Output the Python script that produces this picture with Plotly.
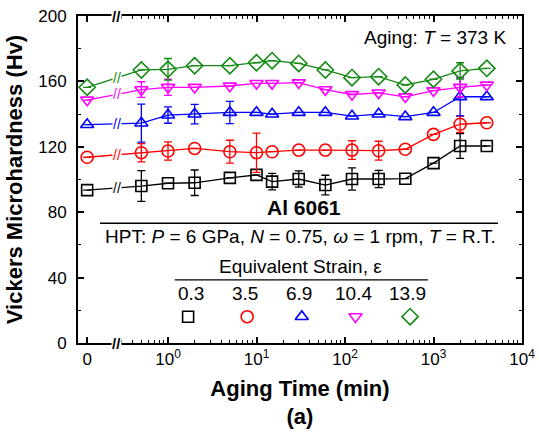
import math
import plotly.graph_objects as go

# ---------------- data ----------------
aging_time = [0, 0.5, 1, 2, 5, 10, 15, 30, 60, 120, 240, 480, 1000, 2000, 4000]
strain_labels = ["0.3", "3.5", "6.9", "10.4", "13.9"]

hv_03 = [93.5, 96, 97.7, 98, 101, 102.8, 98.7, 100.3, 96.6, 100.3, 100.3, 100.5, 110, 120.5, 120.5]
err_03 = [0, 9.4, 0, 7.8, 0, 0, 5, 5, 6, 6.8, 5.3, 0, 0, 7.6, 0]

hv_35 = [113.6, 116.4, 117.4, 119, 117, 116.4, 117, 118, 118, 118, 117.6, 118.5, 127.6, 133.8, 134.7]
err_35 = [0, 5.6, 5.6, 0, 7, 12, 0, 0, 0, 5.7, 5.8, 0, 0, 5, 0]

hv_69 = [133.6, 134.5, 139.4, 140, 141, 141, 140, 141, 141, 138.8, 140, 138.4, 141, 150.6, 150.6]
err_69 = [0, 11.6, 5, 6, 6.8, 0, 0, 0, 0, 0, 0, 0, 0, 11.7, 0]

hv_104 = [148.6, 155, 156.4, 156.4, 157.2, 158.8, 158.8, 159.2, 155, 152, 153, 150.6, 154.3, 156.4, 157.8]
err_104 = [0, 4.8, 4.9, 0, 0, 0, 0, 0, 0, 0, 0, 0, 0, 5.8, 0]

hv_139 = [156.4, 167, 167.4, 169.6, 169.6, 171.4, 172.7, 171, 167, 162.3, 162.9, 157.8, 161.3, 166.4, 168]
err_139 = [0, 0, 6.6, 0, 0, 0, 0, 0, 0, 0, 0, 0, 0, 5, 0]

x_tick_text = ["0", "10<sup>0</sup>", "10<sup>1</sup>", "10<sup>2</sup>", "10<sup>3</sup>", "10<sup>4</sup>"]
y_ticks = [0, 40, 80, 120, 160, 200]

# ---------------- styling ----------------
ZERO_POS = 0.122      # where "0" min sits on the log axis
BREAK_POS = 0.265     # axis break position
FONT = "Liberation Sans, Arial, sans-serif"

series = [
    (hv_03, err_03, "black", "square-open", 11),
    (hv_35, err_35, "#ff0000", "circle-open", 12),
    (hv_69, err_69, "#0000ff", "triangle-up-open", 11.5),
    (hv_104, err_104, "#ff00ff", "triangle-down-open", 11.5),
    (hv_139, err_139, "#138a13", "diamond-open", 12.5),
]

xplot = [ZERO_POS if t == 0 else t for t in aging_time]

fig = go.Figure()
for ys, es, col, sym, ms in series:
    fig.add_trace(go.Scatter(
        x=xplot, y=ys, mode="lines+markers",
        line=dict(color=col, width=1.3),
        marker=dict(symbol=sym, size=ms, color=col, line=dict(width=1.6, color=col)),
        error_y=dict(type="data", array=es, visible=True, color=col, thickness=1.3, width=4),
        showlegend=False, cliponaxis=False,
    ))
    lx0, lx1 = math.log10(xplot[0]), math.log10(xplot[1])
    fr = (math.log10(BREAK_POS) - lx0) / (lx1 - lx0)
    yb = ys[0] + fr * (ys[1] - ys[0])
    fig.add_annotation(x=math.log10(BREAK_POS), y=yb, xref="x", yref="y", text="//",
                       xanchor="center", yanchor="middle",
                       showarrow=False, font=dict(color=col, size=14, family=FONT),
                       bgcolor="white", borderpad=0)

for yy in [0, 200]:
    fig.add_annotation(x=math.log10(BREAK_POS), y=yy, xref="x", yref="y", text="<b>//</b>",
                       xanchor="center", yanchor="middle",
                       showarrow=False, font=dict(color="black", size=15, family=FONT),
                       bgcolor="white", borderpad=0)

# legend-like marker row on an overlay axis (paper-like 0..1 coordinates)
leg_mx = [0.248, 0.381, 0.504, 0.625, 0.748]
leg_tx = [0.254, 0.376, 0.498, 0.620, 0.742]
for i, (ys, es, col, sym, ms) in enumerate(series):
    fig.add_trace(go.Scatter(
        x=[leg_mx[i]], y=[0.0805], mode="markers", xaxis="x2", yaxis="y2",
        marker=dict(symbol=sym, size=ms, color=col, line=dict(width=1.6, color=col)),
        showlegend=False, hoverinfo="skip"))

minor_x = [k * 10 ** d for d in range(-1, 4) for k in range(2, 10) if k * 10 ** d > 0.28]

fig.update_layout(
    width=539, height=440,
    margin=dict(l=78, r=17, t=16, b=97),
    paper_bgcolor="white", plot_bgcolor="white",
    font=dict(family=FONT, size=17, color="black"),
    xaxis=dict(
        type="log", range=[-1.017, 4.0], automargin=False,
        tickmode="array", tickvals=[ZERO_POS, 1, 10, 100, 1000, 10000], ticktext=x_tick_text,
        ticks="inside", ticklen=6, tickwidth=1.5, tickcolor="black",
        showline=True, linecolor="black", linewidth=1.8, mirror="ticks",
        showgrid=False, zeroline=False,
        minor=dict(tickmode="array", tickvals=minor_x, ticks="inside", ticklen=3,
                   tickwidth=1.2, tickcolor="black", showgrid=False),
        title=dict(text="Aging Time (min)<br>(a)", font=dict(size=22, weight="bold"), standoff=12),
        tickfont=dict(size=17),
    ),
    yaxis=dict(
        range=[0, 200], tickmode="array", tickvals=y_ticks, automargin=False,
        ticks="inside", ticklen=6, tickwidth=1.5, tickcolor="black",
        showline=True, linecolor="black", linewidth=1.8, mirror="ticks",
        showgrid=False, zeroline=False, ticklabelstandoff=6,
        minor=dict(dtick=20, ticks="inside", ticklen=3, tickwidth=1.2, tickcolor="black", showgrid=False),
        title=dict(text="Vickers Microhardness (Hv)", font=dict(size=22, weight="bold"), standoff=10),
        tickfont=dict(size=17),
    ),
    xaxis2=dict(domain=[0, 1], range=[0, 1], overlaying="x", visible=False, anchor="y2"),
    yaxis2=dict(domain=[0, 1], range=[0, 1], overlaying="y", visible=False, anchor="x2"),
)

ann = dict(xref="paper", yref="paper", showarrow=False, yanchor="middle",
           font=dict(family=FONT, size=19, color="black"))
fig.add_annotation(x=0.968, y=0.933, xanchor="right", text="Aging: <i>T</i> = 373 K", **ann)
fig.add_annotation(x=0.509, y=0.413, xanchor="center", text="<b>Al 6061</b>",
                   **{**ann, "font": dict(family=FONT, size=21, color="black")})
fig.add_annotation(x=0.502, y=0.325, xanchor="center",
                   text="HPT: <i>P</i> = 6 GPa, <i>N</i> = 0.75, <i>ω</i> = 1 rpm, <i>T</i> = R.T.", **ann)
fig.add_annotation(x=0.50, y=0.233, xanchor="center", text="Equivalent Strain, ε", **ann)
for i, lab in enumerate(strain_labels):
    fig.add_annotation(x=leg_tx[i], y=0.152, xanchor="center", text=lab, **ann)

fig.add_shape(type="line", xref="paper", yref="paper", x0=0.0495, x1=0.946, y0=0.366, y1=0.366,
              line=dict(color="black", width=1.4))
fig.add_shape(type="line", xref="paper", yref="paper", x0=0.218, x1=0.788, y0=0.193, y1=0.193,
              line=dict(color="black", width=1.4))

fig.write_html("out.html", config={"displayModeBar": False},
               post_script="document.body.style.margin='0px';document.body.style.padding='0px';")
